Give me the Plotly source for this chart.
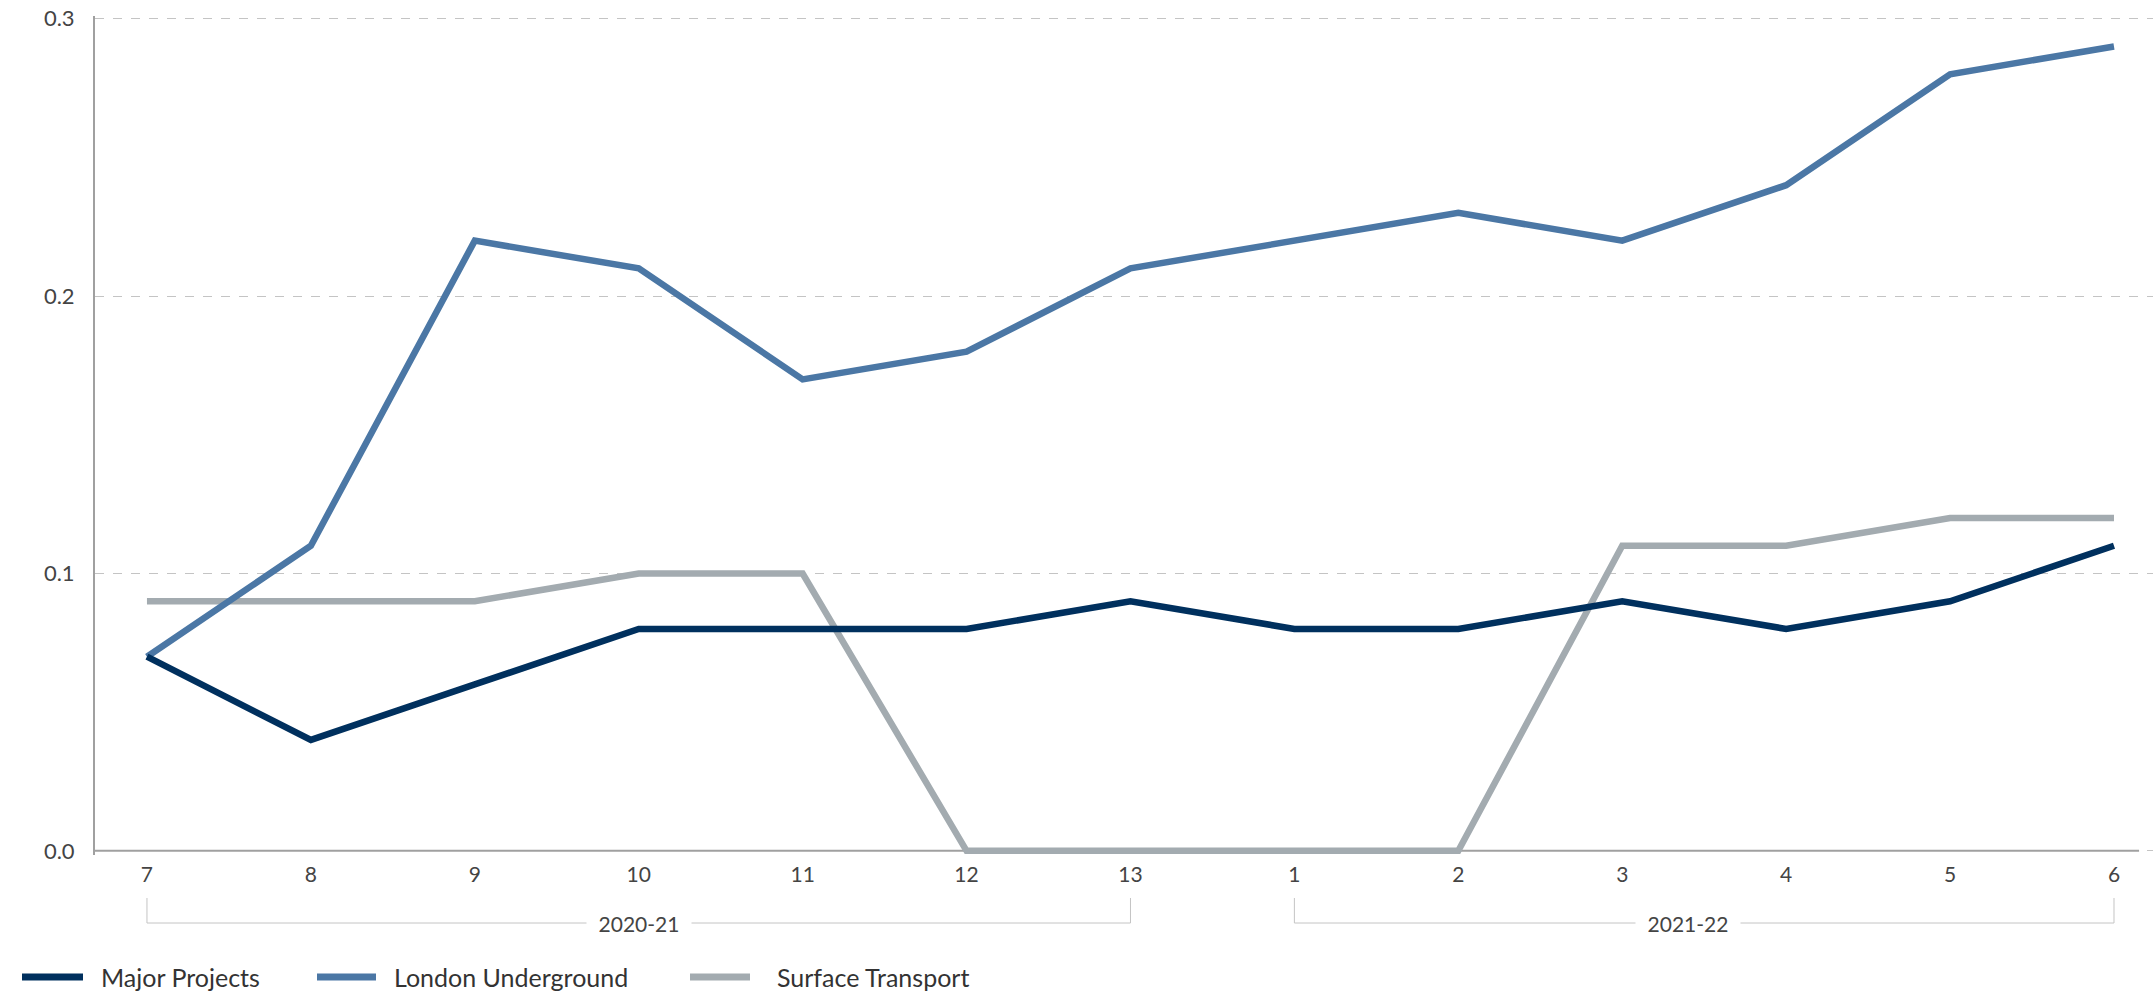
import plotly.graph_objects as go

# ---- data ----
periods = ["7", "8", "9", "10", "11", "12", "13", "1", "2", "3", "4", "5", "6"]
major_projects = [0.07, 0.04, 0.06, 0.08, 0.08, 0.08, 0.09, 0.08, 0.08, 0.09, 0.08, 0.09, 0.11]
london_underground = [0.07, 0.11, 0.22, 0.21, 0.17, 0.18, 0.21, 0.22, 0.23, 0.22, 0.24, 0.28, 0.29]
surface_transport = [0.09, 0.09, 0.09, 0.10, 0.10, 0.0, 0.0, 0.0, 0.0, 0.11, 0.11, 0.12, 0.12]
series_names = ["Major Projects", "London Underground", "Surface Transport"]
year_groups = [("2020-21", "7", "13"), ("2021-22", "1", "6")]
y_ticks = [0.0, 0.1, 0.2, 0.3]
y_tick_labels = ["0.0", "0.1", "0.2", "0.3"]

# ---- style ----
colors = {"Major Projects": "#00305e", "London Underground": "#4b77a5", "Surface Transport": "#a3abb0"}
FONT = "Lato"
W, H = 2153, 995
L, R, T, B = 95, 0, 16, 140
PW, PH = W - L - R, H - T - B

def px_x(X):
    return (X - L) / PW

def px_y(Y):
    return (H - B - Y) / PH

fig = go.Figure()
# draw order: surface (bottom), underground, major projects (top)
for name, vals in [("Surface Transport", surface_transport),
                   ("London Underground", london_underground),
                   ("Major Projects", major_projects)]:
    fig.add_trace(go.Scatter(x=periods, y=vals, mode="lines", name=name,
                             line=dict(color=colors[name], width=6.5),
                             showlegend=False, hoverinfo="x+y+name"))

shapes = []
annotations = []
# x-axis baseline
shapes.append(dict(type="line", xref="x", yref="y", x0=-0.317, x1=12.153, y0=0, y1=0,
                   line=dict(color="#a0a0a0", width=2), layer="between"))

# year brackets
idx = {p: i for i, p in enumerate(periods)}
yb_h = px_y(923)
yb_top = px_y(898)
for label, a, b in year_groups:
    i0, i1 = idx[a], idx[b]
    for xv in (i0, i1):
        shapes.append(dict(type="line", xref="x", yref="paper", x0=xv, x1=xv, y0=yb_top, y1=yb_h,
                           line=dict(color="#c4c4c4", width=1)))
    shapes.append(dict(type="line", xref="x", yref="paper", x0=i0, x1=i1, y0=yb_h, y1=yb_h,
                       line=dict(color="#c4c4c4", width=1)))
    cx = (i0 + i1) / 2 - (0.1 if label == "2021-22" else 0.0)
    annotations.append(dict(x=cx, y=yb_h, xref="x", yref="paper", text=label, showarrow=False,
                            font=dict(family=FONT, size=21, color="#444"),
                            bgcolor="white", borderpad=2, xanchor="center", yanchor="middle",
                            width=100))

# custom legend
leg_y = px_y(977)
leg_swatches = [(22, 83, 99), (317, 376, 392), (690, 750, 775)]
for name, (s0, s1, tx) in zip(series_names, leg_swatches):
    shapes.append(dict(type="line", xref="paper", yref="paper", x0=px_x(s0), x1=px_x(s1),
                       y0=leg_y, y1=leg_y, line=dict(color=colors[name], width=7)))
    annotations.append(dict(x=px_x(tx), y=leg_y, xref="paper", yref="paper", text=name,
                            showarrow=False, xanchor="left", yanchor="middle",
                            font=dict(family=FONT, size=25, color="#333")))

fig.update_layout(
    width=W, height=H,
    margin=dict(l=L, r=R, t=T, b=B, pad=0),
    paper_bgcolor="white", plot_bgcolor="white",
    showlegend=False,
    shapes=shapes, annotations=annotations,
    font=dict(family=FONT, color="#444"),
    xaxis=dict(type="category", range=[-0.317, 12.238], showgrid=False, zeroline=False,
               showline=False, ticks="", tickfont=dict(family=FONT, size=21, color="#444"),
               ticklabelstandoff=5),
    yaxis=dict(range=[-0.0015, 0.301], tickvals=y_ticks, ticktext=y_tick_labels,
               showgrid=True, gridcolor="#c4c4c4", gridwidth=1, griddash="dash",
               zeroline=False, showline=True, linecolor="#a0a0a0", linewidth=2,
               ticks="", tickfont=dict(family=FONT, size=22, color="#444"),
               ticklabelstandoff=14),
)

fig.write_html("out.html")
